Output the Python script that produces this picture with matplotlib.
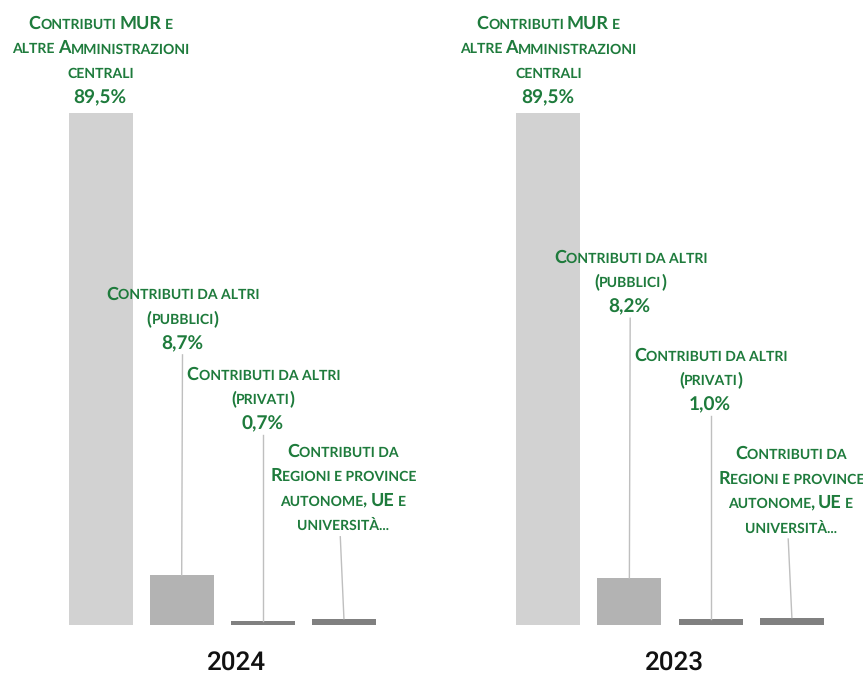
import matplotlib
matplotlib.use("Agg")
import matplotlib.pyplot as plt
from matplotlib.font_manager import FontProperties
from matplotlib.textpath import TextPath
from matplotlib.transforms import IdentityTransform

plt.rcParams["text.hinting"] = "no_hinting"
plt.rcParams["text.hinting_factor"] = 1

# Dati
years = ["2024", "2023"]
labels = [
    ["Contributi MUR e", "altre Amministrazioni", "centrali"],
    ["Contributi da altri", "(pubblici)"],
    ["Contributi da altri", "(privati)"],
    ["Contributi da", "Regioni e province", "autonome, UE e", "università..."],
]
values_2024 = [89.5, 8.7, 0.7, 1.1]
values_2023 = [89.5, 8.2, 1.0, 1.3]
pct_2024 = ["89,5%", "8,7%", "0,7%", None]
pct_2023 = ["89,5%", "8,2%", "1,0%", None]

# Layout delle etichette (centro dell'ultima riga, in unità dei dati)
label_y_2024 = [92.5, 49.5, 35.5, 17.7]
label_y_2023 = [92.5, 55.9, 38.8, 17.3]
label_dx = [0, 0.01, 0, -0.015]

bar_colors = ["#d2d2d2", "#b3b3b3", "#808080", "#808080"]
GREEN = "#1e7b3c"
FONT = "Lato"
FP = FontProperties(family=FONT, weight="bold")
BIG, SMALL, PCT = 13, 10, 14  # punti
LINE_GAP = 24.5  # px
PX_PER_UNIT = 5.72

W, H = 863, 675
fig = plt.figure(figsize=(W / 100, H / 100), dpi=100)

ax_l = fig.add_axes([60 / W, 50 / H, 324.5 / W, 625 / H])
ax_r = fig.add_axes([507.5 / W, 50 / H, 325 / W, 625 / H])

sizes = {"big": BIG, "small": SMALL, "pct": PCT}


def px(pt):
    return pt * 100 / 72


def ink_w(s, size):
    return TextPath((0, 0), s, size=px(size), prop=FP).get_extents().width


def advance(s, size):
    # larghezza di avanzamento, spazi compresi
    return ink_w("H" + s + "H", size) - ink_w("HH", size)


def split_runs(line):
    runs = []
    for ch in line:
        if ch.islower() or ch == "." or ch == " ":
            key, c = "small", ch.upper()
        else:
            key, c = "big", ch
        if runs and runs[-1][0] == key:
            runs[-1][1] += c
        else:
            runs.append([key, c])
    return runs


def draw_line(cx, cy, line, pct=False):
    runs = [["pct", line]] if pct else split_runs(line)
    widths = [advance(s, sizes[key]) for key, s in runs]
    x = cx - sum(widths) / 2
    cap = px(PCT if pct else BIG) * 0.72
    base = cy - cap / 2
    for (key, s), w in zip(runs, widths):
        body = s.strip()
        if body:
            n_lead = len(s) - len(s.lstrip())
            lead = advance(s[:n_lead], sizes[key]) if n_lead else 0
            fig.text(x + lead, base, body, transform=IdentityTransform(),
                     fontsize=sizes[key], family=FONT, weight="bold", color=GREEN,
                     ha="left", va="baseline")
        x += w


for ax, values, pcts, label_y, year, year_x in [
    (ax_l, values_2024, pct_2024, label_y_2024, years[0], 237),
    (ax_r, values_2023, pct_2023, label_y_2023, years[1], 675),
]:
    xs = range(len(values))
    ax.bar(xs, values, width=0.79, color=bar_colors)
    ax.set_xlim(-0.5, 3.5)
    ax.set_ylim(0, 625 / PX_PER_UNIT)
    ax.axis("off")

    for i, v in enumerate(values):
        lines = list(labels[i])
        if pcts[i]:
            lines.append(pcts[i])
        lx = i + label_dx[i]
        cx, cy = ax.transData.transform((lx, label_y[i]))
        n = len(lines)
        for k, line in enumerate(lines):
            y = cy + (n - 1 - k) * LINE_GAP
            draw_line(cx, y, line, pct=(pcts[i] is not None and k == n - 1))
        if i > 0:
            top = label_y[i] - 13 / PX_PER_UNIT
            ax.plot([lx - 0.03 if i == 3 else lx, i], [top, v], color="#bfbfbf", lw=1)

    fig.text(year_x / W, (H - 663) / H, year, fontsize=19, family="Roboto",
             weight="medium", color="#111111", ha="center", va="center")

fig.savefig("out.png", dpi=100)
